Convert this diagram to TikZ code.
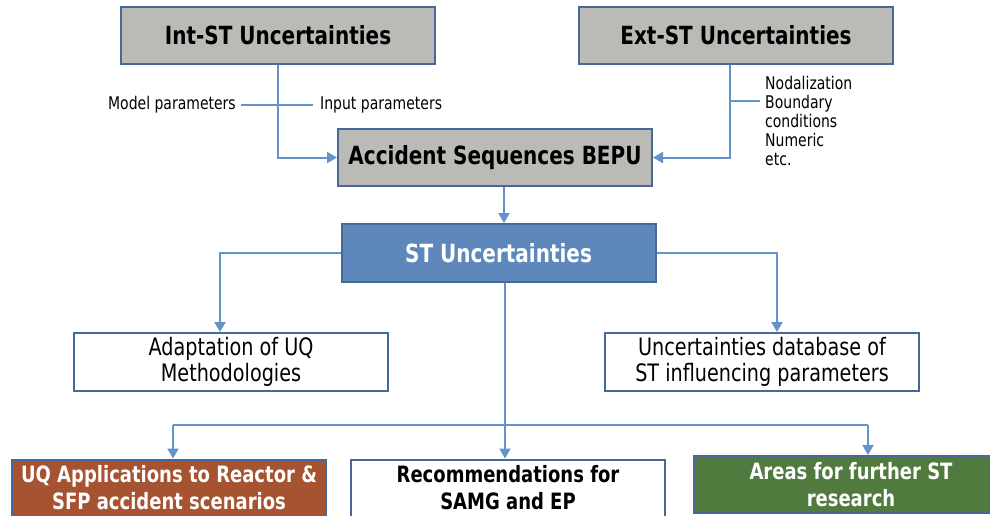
\documentclass[tikz,border=0pt]{standalone}
\usepackage{fontspec}
\setmainfont[FakeStretch=0.8]{DejaVu Sans}
\usetikzlibrary{arrows.meta,calc}
\definecolor{boxline}{HTML}{46699A}
\definecolor{linkline}{HTML}{6393CB}
\definecolor{greyfill}{HTML}{BCBAB6}
\definecolor{stfill}{HTML}{5E88BB}
\definecolor{uqfill}{HTML}{A55331}
\definecolor{areafill}{HTML}{517A3F}
\tikzset{
    box/.style={draw=boxline, line width=2pt, minimum width=314pt, inner sep=0pt, align=center},
    greybox/.style={box, fill=greyfill, minimum height=57pt, font=\fontsize{25}{30}\selectfont\bfseries},
    stbox/.style={box, fill=stfill, text=white, minimum height=58pt, font=\fontsize{25}{30}\selectfont\bfseries},
    midbox/.style={box, fill=white, minimum height=58pt, font=\fontsize{24}{26}\selectfont},
    lowbox/.style={box, minimum height=57pt, font=\fontsize{22.5}{27}\selectfont\bfseries},
    smalltext/.style={inner sep=0pt, font=\fontsize{17.5}{19}\selectfont},
    arr/.style={draw=linkline, line width=2pt, -{Triangle[length=10pt,width=11pt]}},
    thinline/.style={draw=linkline, line width=1.2pt},
  }
\begin{document}
\begin{tikzpicture}[x=1pt,y=-1pt]
  \clip (0,0) rectangle (990,515);
  %boites du haut
  \node[greybox] (int) at (278,35.5) {Int-ST Uncertainties};
  \node[greybox] (ext) at (736,35.5) {Ext-ST Uncertainties};
  \node[greybox] (acc) at (495,157.5) {Accident Sequences BEPU};
  \node[stbox] (st) at (498.5,253) {ST Uncertainties};
  %niveau intermediaire
  \node[midbox] (adapt) at (231,362) {Adaptation of UQ\\Methodologies};
  \node[midbox] (db) at (762,362) {Uncertainties database of\\ST influencing parameters};
  %boites du bas
  \node[lowbox, fill=uqfill, text=white] (uq) at (169,488) {UQ Applications to Reactor \&\\SFP accident scenarios};
  \node[lowbox, fill=white] (samg) at (508,488) {Recommendations for\\SAMG and EP};
  \node[lowbox, fill=areafill, text=white] (area) at (851,484.5) {Areas for further ST\\research};
  %etiquettes
  \node[smalltext, anchor=east] (mp) at (236,105) {Model parameters};
  \node[smalltext, anchor=west] (ip) at (320,105) {Input parameters};
  \node[smalltext, anchor=west, align=left] (extlist) at (765,120.5) {Nodalization\\Boundary\\conditions\\Numeric\\etc.};
  \coordinate (extbr) at (730,101);
  \coordinate (busL) at (173,425);
  \coordinate (busR) at (868,425);
  %fleches
  \draw[thinline] (mp.east) ++(5,0) -- ($(ip.west)+(-7,0)$);
  \draw[thinline] (extbr) -- ($(extbr -| extlist.west)+(-5,0)$);
  \draw[arr] (int.south) |- (acc.west);
  \draw[arr] (ext.south -| extbr) |- (acc.east);
  \draw[arr] (acc.south -| 504,0) -- (st.north -| 504,0);
  \draw[arr] (st.west) -| (adapt.north -| 220,0);
  \draw[arr] (st.east) -| (db.north -| 777,0);
  \draw[arr] (st.south -| 505,0) -- (samg.north -| 505,0);
  \draw[thinline] (busL) -- (busR);
  \draw[arr] (busL) -- (uq.north -| busL);
  \draw[arr] (busR) -- (area.north -| busR);
\end{tikzpicture}
\end{document}
